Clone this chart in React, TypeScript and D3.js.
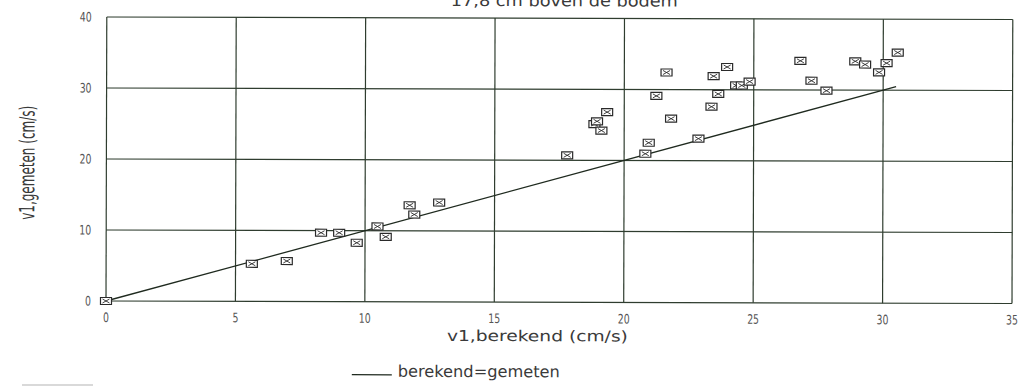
import React from "react";
import * as d3 from "d3";

// Measured vs. computed velocity v1 (cm/s) at 17,8 cm above the bed
const berekend = [0, 5.63, 6.98, 8.3, 9.0, 9.68, 10.48, 10.8, 11.72, 11.9, 12.86, 17.8, 18.85, 18.95, 19.12, 19.34, 20.82, 20.95, 21.24, 21.63, 21.81, 22.87, 23.37, 23.45, 23.63, 23.97, 24.32, 24.54, 24.84, 26.8, 27.23, 27.81, 28.92, 29.3, 29.84, 30.13, 30.56];
const gemeten = [0, 5.3, 5.7, 9.7, 9.7, 8.3, 10.6, 9.15, 13.6, 12.3, 14.0, 20.7, 25.1, 25.5, 24.2, 26.8, 20.95, 22.5, 29.1, 32.4, 25.9, 23.1, 27.6, 31.9, 29.4, 33.2, 30.6, 30.6, 31.15, 34.1, 31.3, 29.9, 34.05, 33.6, 32.5, 33.8, 35.3];
const xTicks = [0, 5, 10, 15, 20, 25, 30, 35];
const yTicks = [0, 10, 20, 30, 40];
const lijn = [0, 30.5]; // berekend = gemeten

const W = 1027;
const H = 386;
const GRID = "#2f3d2f";
const TEXT = "#3a3a3a";

export default function App() {
  const x = d3.scaleLinear().domain([0, 35]).range([106, 1012]);
  const y = d3.scaleLinear().domain([0, 40]).range([301, 17]);
  const line = d3
    .line<number>()
    .x((d) => x(d))
    .y((d) => y(d));

  const points = berekend.map((b, i) => ({ b, g: gemeten[i] }));
  const mw = 11;
  const mh = 7;

  return (
    <svg
      width={W}
      height={H}
      style={{ position: "absolute", left: 0, top: 0, background: "#fff" }}
      fontFamily="DejaVu Sans, sans-serif"
    >
      <rect width={W} height={H} fill="#fff" />
      <g transform={`rotate(0.158, ${x(0)}, ${y(0)})`}>
        <text
          x={450}
          y={5}
          fontSize={16}
          fill={TEXT}
          textLength={227}
          lengthAdjust="spacingAndGlyphs"
        >
          17,8 cm boven de bodem
        </text>

        {/* grid */}
        {xTicks.map((t) => (
          <line key={"gx" + t} x1={x(t)} x2={x(t)} y1={y(0)} y2={y(40)} stroke={GRID} strokeWidth={1.2} />
        ))}
        {yTicks.map((t) => (
          <line key={"gy" + t} x1={x(0)} x2={x(35)} y1={y(t)} y2={y(t)} stroke={GRID} strokeWidth={1.2} />
        ))}

        {/* tick labels */}
        {xTicks.map((t) => (
          <text
            key={"tx" + t}
            transform={`translate(${x(t)}, 322) scale(0.72, 1)`}
            textAnchor="middle"
            fontSize={13}
            fill="#555"
          >
            {t}
          </text>
        ))}
        {yTicks.map((t) => (
          <text
            key={"ty" + t}
            transform={`translate(91, ${y(t) + 4.5}) scale(0.72, 1)`}
            textAnchor="end"
            fontSize={13}
            fill="#555"
          >
            {t}
          </text>
        ))}

        {/* berekend = gemeten */}
        <path d={line(lijn) ?? ""} fill="none" stroke="#1f2a1f" strokeWidth={1.3} />

        {/* measurements */}
        {points.map((p, i) => {
          const cx = x(p.b);
          const cy = y(p.g);
          return (
            <g key={"p" + i} transform={`translate(${cx - mw / 2}, ${cy - mh / 2})`} stroke="#2a2a2a" fill="none">
              <rect x={0} y={0} width={mw} height={mh} fill="#fff" strokeWidth={1.2} />
              <path d={`M2,1.5L${mw - 2},${mh - 1.5}M2,${mh - 1.5}L${mw - 2},1.5`} strokeWidth={0.9} />
            </g>
          );
        })}

        {/* axis titles */}
        <text
          x={447}
          y={340}
          fontSize={15}
          fill={TEXT}
          textLength={181}
          lengthAdjust="spacingAndGlyphs"
        >
          v1,berekend (cm/s)
        </text>
        <text
          transform="translate(34, 220) rotate(-90)"
          fontSize={21}
          fill={TEXT}
          textLength={114}
          lengthAdjust="spacingAndGlyphs"
        >
          v1,gemeten (cm/s)
        </text>

        {/* legend */}
        <line x1={352} x2={392} y1={374} y2={374} stroke="#1f2a1f" strokeWidth={1.2} />
        <text
          x={398}
          y={376}
          fontSize={16}
          fill={TEXT}
          textLength={162}
          lengthAdjust="spacingAndGlyphs"
        >
          berekend=gemeten
        </text>
      </g>
      <line x1={22} x2={93} y1={385} y2={385} stroke="#ccc" strokeWidth={1.5} />
    </svg>
  );
}
